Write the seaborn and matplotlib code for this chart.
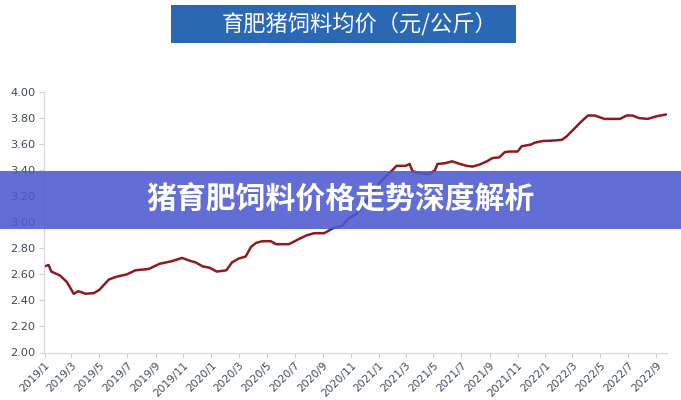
import matplotlib
matplotlib.use("Agg")
import matplotlib.pyplot as plt
from matplotlib.patches import Rectangle
import pandas as pd
import seaborn as sns

# ---- data ----
dates = [
    "2019-01-01", "2019-01-10", "2019-01-16", "2019-02-04", "2019-02-19", "2019-03-06",
    "2019-03-16", "2019-04-01", "2019-04-19", "2019-05-01", "2019-05-22", "2019-06-07",
    "2019-07-01", "2019-07-19", "2019-08-17", "2019-09-10", "2019-10-07", "2019-10-29",
    "2019-11-13", "2019-11-28", "2019-12-13", "2019-12-28", "2020-01-13", "2020-02-03",
    "2020-02-15", "2020-03-01", "2020-03-16", "2020-03-28", "2020-04-08", "2020-04-22",
    "2020-05-10", "2020-05-22", "2020-06-19", "2020-07-11", "2020-07-27", "2020-08-13",
    "2020-09-04", "2020-09-22", "2020-10-13", "2020-10-28", "2020-11-13", "2020-12-07",
    "2021-01-04", "2021-02-01", "2021-02-09", "2021-03-01", "2021-03-10", "2021-03-16",
    "2021-03-25", "2021-04-07", "2021-04-22", "2021-05-04", "2021-05-10", "2021-05-26",
    "2021-06-11", "2021-06-28", "2021-07-13", "2021-07-26", "2021-08-10", "2021-08-26",
    "2021-09-07", "2021-09-22", "2021-10-04", "2021-10-14", "2021-11-01", "2021-11-10",
    "2021-12-01", "2021-12-08", "2021-12-25", "2022-01-22", "2022-02-06", "2022-02-16",
    "2022-03-01", "2022-03-19", "2022-04-04", "2022-04-19", "2022-05-10", "2022-06-13",
    "2022-06-28", "2022-07-10", "2022-07-25", "2022-08-13", "2022-09-01", "2022-09-22",
]
prices = [
    2.66, 2.67, 2.62, 2.59, 2.54, 2.45,
    2.47, 2.45, 2.455, 2.48, 2.56, 2.58,
    2.60, 2.63, 2.64, 2.68, 2.70, 2.725,
    2.705, 2.69, 2.66, 2.65, 2.62, 2.63,
    2.69, 2.72, 2.735, 2.81, 2.84, 2.853,
    2.853, 2.83, 2.83, 2.87, 2.897, 2.914,
    2.914, 2.95, 2.97, 3.03, 3.06, 3.165,
    3.305, 3.40, 3.43, 3.43, 3.445, 3.39,
    3.38, 3.37, 3.37, 3.395, 3.445, 3.45,
    3.465, 3.445, 3.43, 3.425, 3.44, 3.465,
    3.49, 3.495, 3.535, 3.54, 3.54, 3.58,
    3.594, 3.607, 3.62, 3.625, 3.63, 3.655,
    3.70, 3.765, 3.816, 3.816, 3.79, 3.79,
    3.816, 3.816, 3.796, 3.79, 3.81, 3.824,
]
x_tick_labels = [
    "2019/1", "2019/3", "2019/5", "2019/7", "2019/9", "2019/11",
    "2020/1", "2020/3", "2020/5", "2020/7", "2020/9", "2020/11",
    "2021/1", "2021/3", "2021/5", "2021/7", "2021/9", "2021/11",
    "2022/1", "2022/3", "2022/5", "2022/7", "2022/9",
]
y_ticks = [2.00, 2.20, 2.40, 2.60, 2.80, 3.00, 3.20, 3.40, 3.60, 3.80, 4.00]
title_text = "育肥猪饲料均价（元/公斤）"
banner_text = "猪育肥饲料价格走势深度解析"

df = pd.DataFrame({"date": pd.to_datetime(dates), "price": prices})

sns.set_theme(style="white")
plt.rcParams["font.family"] = ["DejaVu Sans", "Noto Sans CJK SC"]

fig = plt.figure(figsize=(6.81, 4.0), dpi=100)
ax = fig.add_axes([44.5 / 681, 1 - 352.5 / 400, (667 - 44.5) / 681, (352.5 - 91.5) / 400])

sns.lineplot(data=df, x="date", y="price", color="#8E1B20", linewidth=1.8, ax=ax)

tick_pos = pd.to_datetime(x_tick_labels, format="%Y/%m")
ax.set_xticks(tick_pos)
ax.set_xticklabels(x_tick_labels, rotation=45, ha="right", va="top",
                   rotation_mode="anchor", fontsize=7.7, color="#3F4B5B")
ax.set_yticks(y_ticks)
ax.set_yticklabels([f"{v:.2f}" for v in y_ticks], fontsize=8.2, color="#3F4B5B")
ax.set_xlim(pd.Timestamp("2019-01-01"), pd.Timestamp("2022-09-24"))
ax.set_ylim(2.0, 4.0)
ax.set_xlabel("")
ax.set_ylabel("")
ax.tick_params(axis="both", length=3.5, width=0.8, color="#D0D0D0", pad=3, direction="out",
               bottom=True, left=True)
ax.tick_params(axis="x", pad=2)
for side in ["top", "right"]:
    ax.spines[side].set_visible(False)
for side in ["left", "bottom"]:
    ax.spines[side].set_color("#D9D9D9")
    ax.spines[side].set_linewidth(0.9)

# title box
fig.add_artist(Rectangle((171 / 681, 1 - 43 / 400), 345 / 681, 38 / 400,
                         transform=fig.transFigure, facecolor="#2A68B4",
                         edgecolor="none", zorder=3))
fig.text(222 / 681, 1 - 24 / 400, title_text, color="white", fontsize=16,
         ha="left", va="center", fontweight="light",
         family=["Noto Sans CJK SC", "DejaVu Sans"], zorder=4)

# banner
fig.add_artist(Rectangle((0, 1 - 229 / 400), 1, 58 / 400, transform=fig.transFigure,
                         facecolor="#4C59D0", alpha=0.88, edgecolor="none", zorder=5))
fig.text(0.5, 1 - 200 / 400, banner_text, color="white", fontsize=21.5, fontweight="heavy",
         ha="center", va="center", family=["Noto Sans CJK SC", "DejaVu Sans"], zorder=6)

fig.savefig("out.png", dpi=100)
